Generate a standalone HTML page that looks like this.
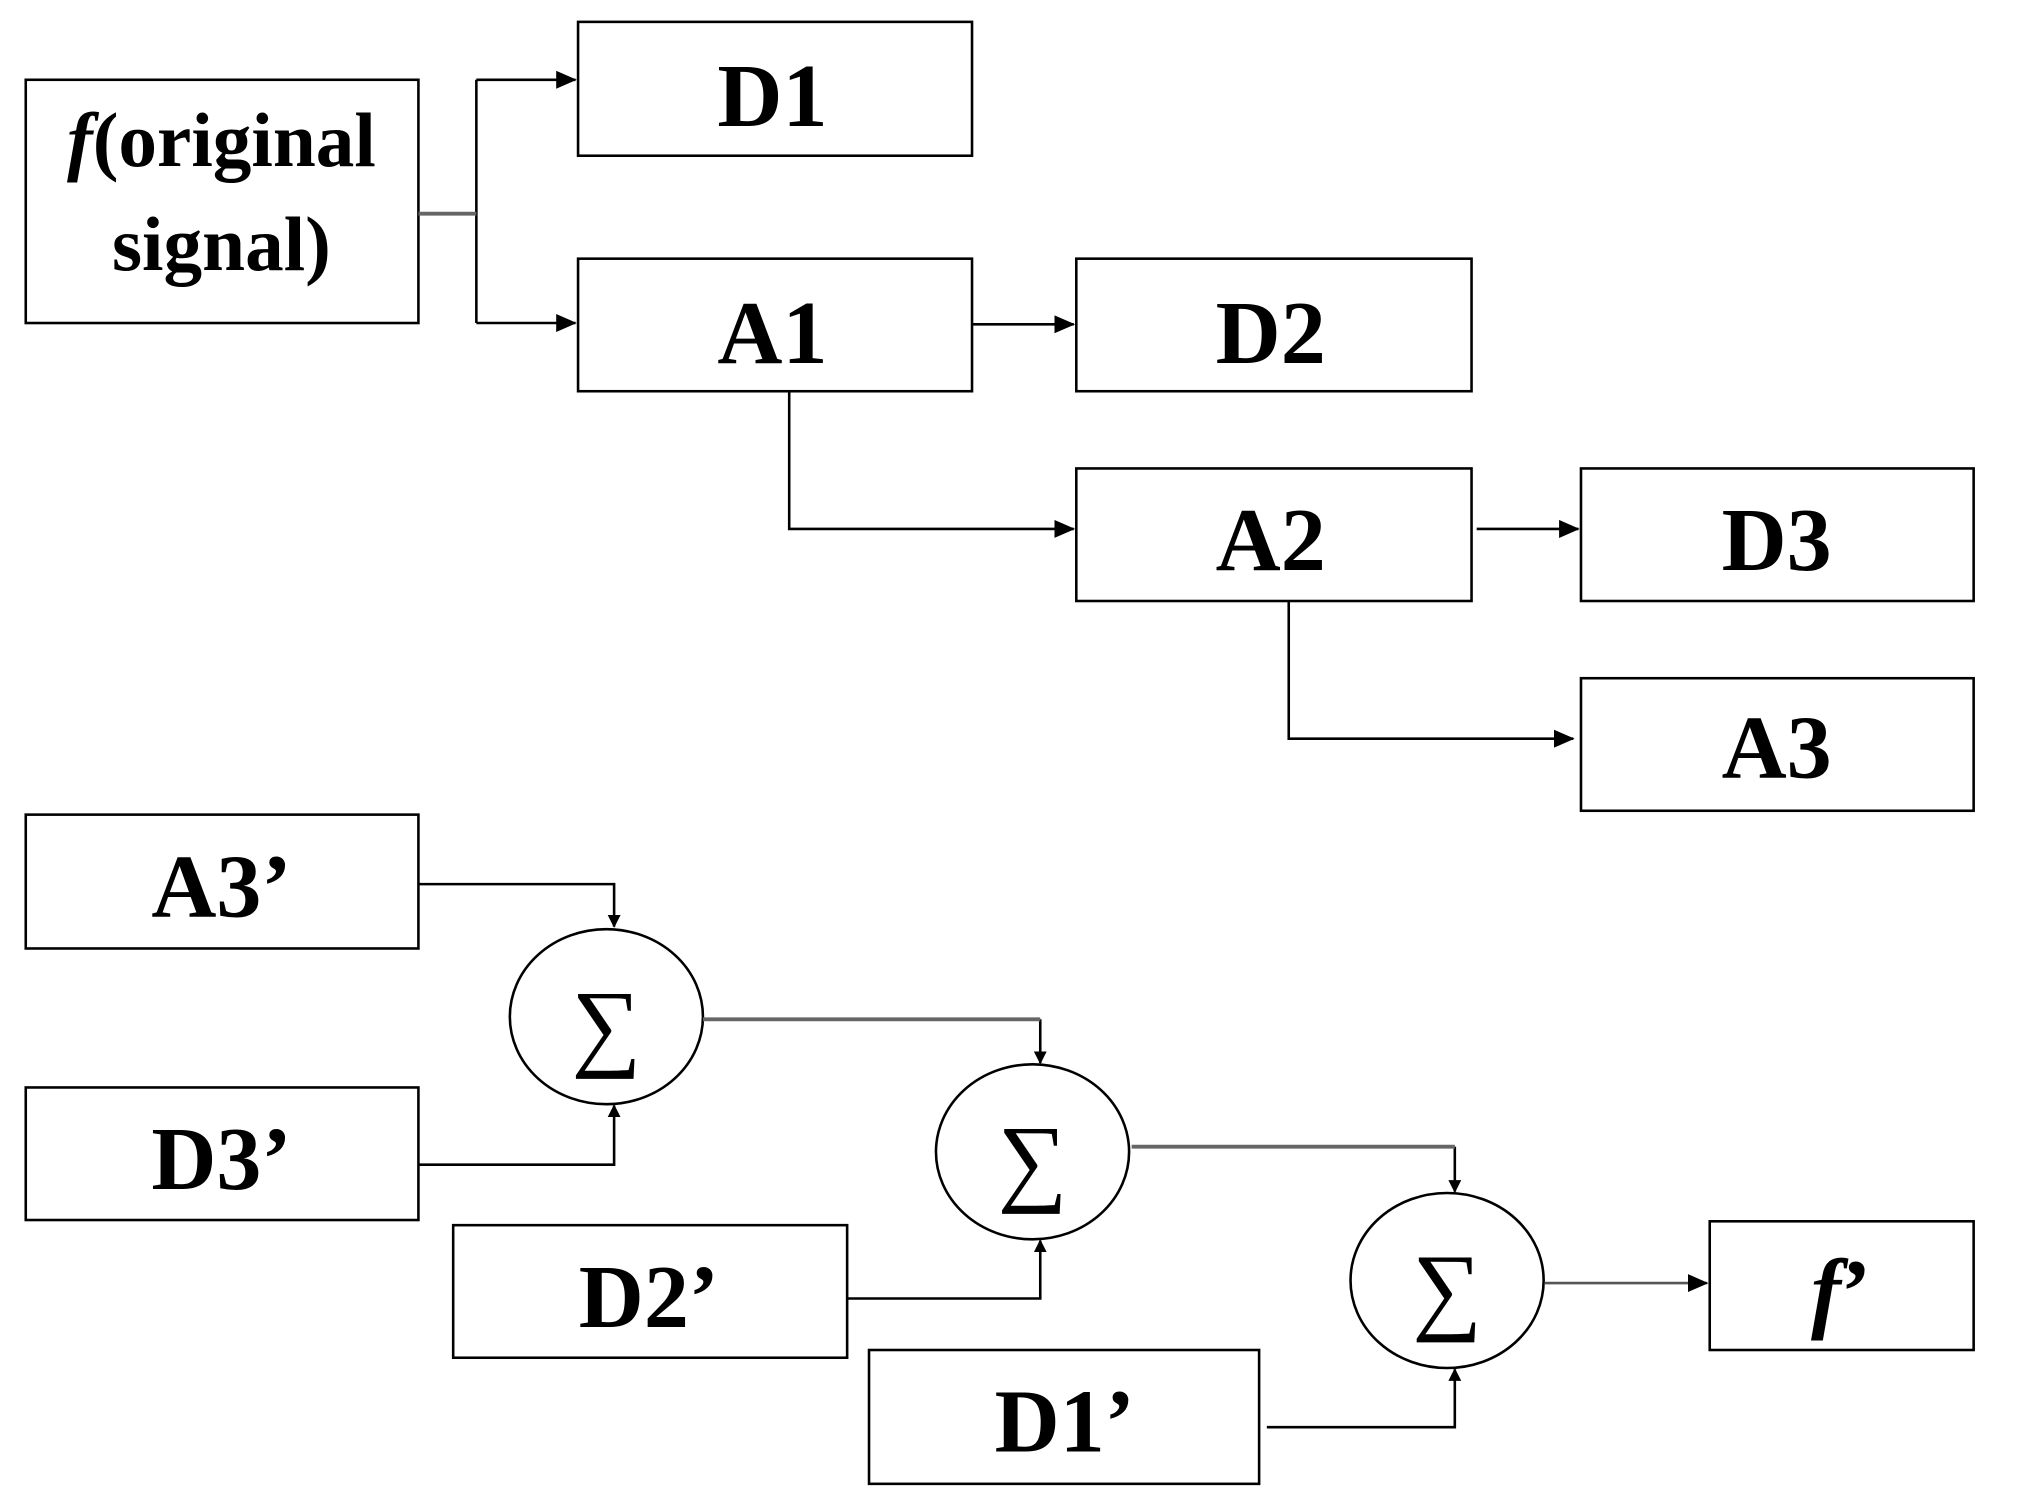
<!DOCTYPE html>
<html><head><meta charset="utf-8"><style>
html,body{margin:0;padding:0;background:#fff;}
svg{display:block;}
text{font-family:"Liberation Serif",serif;font-weight:bold;fill:#000;}
</style></head><body>
<svg width="2020" height="1498" viewBox="0 0 1569 1164" preserveAspectRatio="none" xmlns="http://www.w3.org/2000/svg">
<defs><marker id="a" markerWidth="10" markerHeight="10" refX="9" refY="5" orient="auto" markerUnits="userSpaceOnUse"><path d="M0,0 L10,5 L0,10 z" fill="#000"/></marker>
<marker id="b" markerWidth="16" markerHeight="14" refX="15" refY="7" orient="auto" markerUnits="userSpaceOnUse"><path d="M0,0 L16,7 L0,14 z" fill="#000"/></marker></defs>
<g fill="none" stroke="#000" stroke-width="2">
<rect x="20" y="62" width="305" height="189"/>
<rect x="449" y="17" width="306" height="104"/>
<rect x="449" y="201" width="306" height="103"/>
<rect x="836" y="201" width="307" height="103"/>
<rect x="836" y="364" width="307" height="103"/>
<rect x="1228" y="364" width="305" height="103"/>
<rect x="1228" y="527" width="305" height="103"/>
<rect x="20" y="633" width="305" height="104"/>
<rect x="20" y="845" width="305" height="103"/>
<rect x="352" y="952" width="306" height="103"/>
<rect x="675" y="1049" width="303" height="104"/>
<rect x="1328" y="949" width="205" height="100"/>
<ellipse cx="471" cy="790" rx="75" ry="68"/>
<ellipse cx="802" cy="895" rx="75" ry="68"/>
<ellipse cx="1124" cy="995" rx="75" ry="68"/>
</g>
<g fill="none" stroke="#000" stroke-width="2">
<path d="M370,62 V251"/>
<path d="M370,62 H447" marker-end="url(#b)"/>
<path d="M370,251 H447" marker-end="url(#b)"/>
<path d="M755,252 H834" marker-end="url(#b)"/>
<path d="M613,304 V411 H834" marker-end="url(#b)"/>
<path d="M1147,411 H1226" marker-end="url(#b)"/>
<path d="M1001,467 V574 H1222" marker-end="url(#b)"/>
<path d="M325,687 H477 V720" marker-end="url(#a)"/>
<path d="M325,905 H477 V859" marker-end="url(#a)"/>
<path d="M658,1009 H808 V964" marker-end="url(#a)"/>
<path d="M984,1109 H1130 V1064" marker-end="url(#a)"/>
<path d="M808,792 V826" marker-end="url(#a)"/>
<path d="M1130,891 V926" marker-end="url(#a)"/>
<path d="M1200,997 H1326" marker-end="url(#b)" stroke="#555"/>
</g>
<g fill="none" stroke="#666" stroke-width="3">
<path d="M325,166 H370"/>
<path d="M546,792 H808"/>
<path d="M879,891 H1130"/>
</g>
<g font-size="60" text-anchor="middle">
<text x="172" y="129"><tspan font-style="italic">f</tspan>(original</text>
<text x="172" y="210">signal)</text>
</g>
<g font-size="70" text-anchor="middle">
<text x="600" y="98">D1</text>
<text x="600" y="282">A1</text>
<text x="987" y="282">D2</text>
<text x="987" y="443">A2</text>
<text x="1380" y="443">D3</text>
<text x="1380" y="604">A3</text>
<text x="172" y="712">A3’</text>
<text x="172" y="924">D3’</text>
<text x="504" y="1031">D2’</text>
<text x="827" y="1128">D1’</text>
<text x="1430" y="1027"><tspan font-style="italic">f</tspan>’</text>
</g>
<g font-size="76" text-anchor="middle">
<text x="471" y="822" style="font-weight:normal">∑</text>
<text x="802" y="927" style="font-weight:normal">∑</text>
<text x="1124" y="1027" style="font-weight:normal">∑</text>
</g>
</svg>
</body></html>
